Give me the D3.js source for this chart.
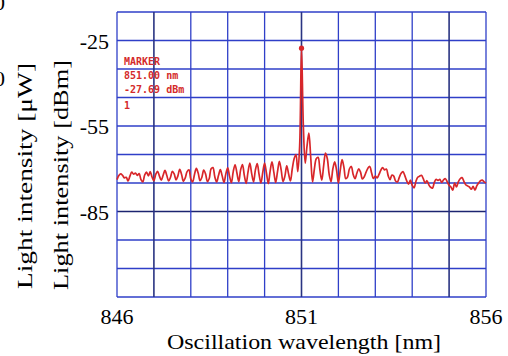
<!DOCTYPE html>
<html>
<head>
<meta charset="utf-8">
<script src="https://cdn.jsdelivr.net/npm/d3@7"></script>
<style>
  body { margin: 0; background: #fff; }
  svg { display: block; }
</style>
</head>
<body>
<div class="graph_spectrum"></div>
<script>
// spectrum sampled every 0.05 nm from 846 to 856 nm, values in dBm
const wl_start = 846;
const wl_step = 0.05;
const power_dbm = [
  -73.8, -72.4, -71.8, -72.3, -73.2, -73.0, -74.3, -72.6, -71.2, -71.9,
  -71.5, -72.3, -71.7, -73.8, -74.6, -72.2, -71.2, -72.5, -71.0, -72.9,
  -74.2, -72.0, -70.9, -72.6, -74.0, -72.3, -70.6, -72.4, -74.3, -73.0,
  -70.9, -71.8, -73.9, -72.5, -70.2, -72.0, -74.4, -73.2, -71.0, -70.4,
  -73.6, -74.6, -72.0, -69.9, -71.5, -74.2, -73.0, -70.5, -71.8, -74.5,
  -73.4, -70.0, -69.6, -72.8, -74.6, -72.4, -70.3, -72.5, -74.8, -71.8,
  -69.7, -72.6, -74.9, -71.0, -68.6, -71.5, -74.5, -70.4, -68.5, -72.3,
  -75.1, -71.2, -68.0, -71.7, -74.6, -70.5, -68.2, -72.0, -75.0, -71.3,
  -68.0, -71.5, -75.2, -70.8, -67.6, -71.2, -74.8, -71.0, -67.4, -70.5,
  -74.5, -72.6, -69.0, -71.8, -74.3, -70.0, -66.5, -65.0, -71.0, -62.0,
  -27.7, -55.0, -68.0, -62.0, -57.5, -66.0, -74.6, -70.0, -66.5, -66.0,
  -70.5, -74.0, -69.0, -64.5, -66.5, -72.0, -74.5, -70.0, -67.6, -70.5,
  -75.0, -70.5, -66.8, -69.5, -73.5, -72.8, -70.0, -69.2, -72.0, -73.5,
  -71.6, -70.0, -71.2, -73.6, -72.8, -71.2, -69.8, -69.2, -71.5, -73.4,
  -72.6, -73.2, -72.0, -70.5, -69.6, -70.4, -70.1, -72.5, -73.8, -72.2,
  -72.6, -74.3, -74.6, -73.0, -71.6, -71.0, -72.4, -74.2, -75.4, -74.0,
  -75.8, -76.7, -74.5, -73.0, -72.6, -72.3, -73.5, -75.0, -74.2, -75.6,
  -76.5, -76.8, -74.8, -73.7, -74.1, -73.7, -74.8, -73.9, -73.5, -74.6,
  -75.8, -76.4, -77.5, -75.0, -76.4, -74.6, -73.5, -73.1, -74.4, -75.6,
  -76.0, -76.4, -77.2, -76.2, -77.5, -76.0, -75.0, -74.2, -74.0, -74.6,
  -75.0
];

const marker_wl = 851.00;
const marker_dbm = -27.69;
const marker_lines = ["MARKER", "851.00 nm", "-27.69 dBm", "1"];

const x_ticks = [846, 851, 856];
const y_ticks = [-25, -55, -85];
const x_grid = d3.range(846, 857, 1);
const y_grid = d3.range(-115, -14, 10);
// darker grid lines in the analyser screenshot
const x_grid_dark = [847, 851, 855];
const y_grid_dark = [-85];

draw_spectrum();

function draw_spectrum(){
  const width = 508, height = 356;
  const margin = {top: 12, bottom: 59, left: 117, right: 22};

  const svg = d3.select(".graph_spectrum").append("svg")
    .attr("width", width).attr("height", height);

  const x = d3.scaleLinear().domain([846, 856]).range([margin.left, width - margin.right]);
  const y = d3.scaleLinear().domain([-115, -15]).range([height - margin.bottom, margin.top]);

  const points = power_dbm.map((v, i) => ({wl: wl_start + i * wl_step, dbm: v}));

  // grid
  const grid = svg.append("g");
  grid.selectAll("line.h")
    .data(y_grid)
    .join("line")
    .attr("class", "h")
    .attr("x1", x(846)).attr("x2", x(856))
    .attr("y1", d => y(d)).attr("y2", d => y(d))
    .attr("stroke", d => y_grid_dark.includes(d) ? "#1c2470" : "#2f3fc8")
    .attr("stroke-width", d => y_grid_dark.includes(d) ? 1.6 : 1.3);

  grid.selectAll("line.v")
    .data(x_grid)
    .join("line")
    .attr("class", "v")
    .attr("x1", d => x(d)).attr("x2", d => x(d))
    .attr("y1", y(-15)).attr("y2", y(-115))
    .attr("stroke", d => x_grid_dark.includes(d) ? "#2a3482" : "#2f3fc8")
    .attr("stroke-width", d => x_grid_dark.includes(d) ? 1.6 : 1.3);

  // spectrum trace
  const line = d3.line().x(d => x(d.wl)).y(d => y(d.dbm)).curve(d3.curveCatmullRom);
  svg.append("path")
    .datum(points)
    .attr("d", line)
    .attr("fill", "none")
    .attr("stroke", "#d8262a")
    .attr("stroke-width", 1.7)
    .attr("stroke-linejoin", "round");

  // marker
  svg.append("circle")
    .attr("cx", x(marker_wl)).attr("cy", y(marker_dbm))
    .attr("r", 2.6).attr("fill", "#d8262a");

  svg.append("g")
    .selectAll("text")
    .data(marker_lines)
    .join("text")
    .attr("x", 124)
    .attr("y", (d, i) => [65, 79, 93, 109][i])
    .attr("font-family", "DejaVu Sans Mono, monospace")
    .attr("font-size", 10)
    .attr("font-weight", "bold")
    .attr("fill", "#d42a2a")
    .text(d => d);

  // tick labels
  const font = "Liberation Serif, Times New Roman, serif";
  svg.append("g")
    .selectAll("text")
    .data(x_ticks)
    .join("text")
    .attr("x", d => x(d))
    .attr("y", 324)
    .attr("text-anchor", "middle")
    .attr("font-family", font)
    .attr("font-size", 22)
    .text(d => d);

  svg.append("g")
    .selectAll("text")
    .data(y_ticks)
    .join("text")
    .attr("x", 109)
    .attr("y", d => y(d) + 8)
    .attr("text-anchor", "end")
    .attr("font-family", font)
    .attr("font-size", 22)
    .text(d => d);

  // cut-off labels of the other axis at the left edge
  svg.append("g")
    .selectAll("text")
    .data([10, 86])
    .join("text")
    .attr("x", 5)
    .attr("y", d => d)
    .attr("text-anchor", "end")
    .attr("font-family", font)
    .attr("font-size", 22)
    .text("0");

  // axis titles
  svg.append("text")
    .attr("x", 304)
    .attr("y", 349)
    .attr("text-anchor", "middle")
    .attr("font-family", font)
    .attr("font-size", 22)
    .attr("textLength", 274)
    .attr("lengthAdjust", "spacingAndGlyphs")
    .text("Oscillation wavelength [nm]");

  svg.append("text")
    .attr("transform", "translate(32, 176) rotate(-90)")
    .attr("text-anchor", "middle")
    .attr("font-family", font)
    .attr("font-size", 22)
    .attr("textLength", 226)
    .attr("lengthAdjust", "spacingAndGlyphs")
    .text("Light intensity [\u03bcW]");

  svg.append("text")
    .attr("transform", "translate(68, 175) rotate(-90)")
    .attr("text-anchor", "middle")
    .attr("font-family", font)
    .attr("font-size", 22)
    .attr("textLength", 230)
    .attr("lengthAdjust", "spacingAndGlyphs")
    .text("Light intensity [dBm]");
}
</script>
</body>
</html>
